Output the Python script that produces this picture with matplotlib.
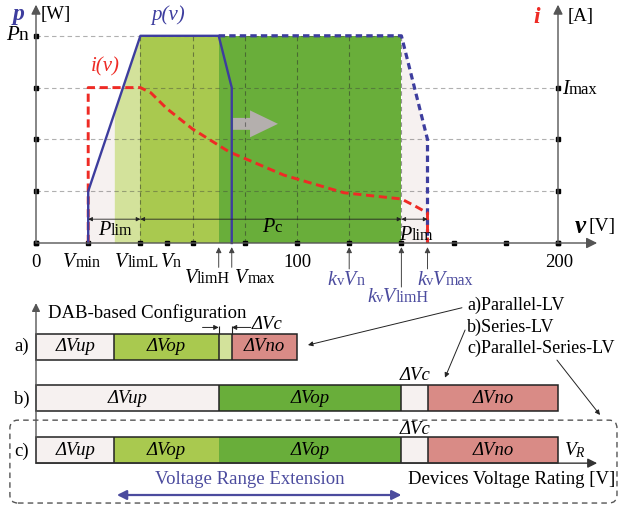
import matplotlib
matplotlib.use('Agg')
import matplotlib.pyplot as plt
import numpy as np
from matplotlib.patches import FancyBboxPatch
from matplotlib.offsetbox import TextArea, HPacker, AnnotationBbox

plt.rcParams['font.family'] = ['Liberation Serif', 'DejaVu Serif']
plt.rcParams['mathtext.fontset'] = 'custom'
plt.rcParams['mathtext.rm'] = 'Liberation Serif'
plt.rcParams['mathtext.it'] = 'Liberation Serif:italic'

# operating curves (voltage [V], level in grid units)
tick_v = [0, 20, 40, 50, 60, 80, 100, 120, 140, 160, 180, 200]
grid_v = [40, 60, 80, 100, 120, 140]
grid_lvl = [1, 2, 3, 4]
p_v = [20, 20, 40, 70, 75, 75]
p_lvl = [0, 1, 4, 4, 3, 0]
p_ext_v = [70, 140, 150, 150]
p_ext_lvl = [4, 4, 2, 0]
i_v = [20, 20, 40, 44, 50, 60, 74, 95, 118, 140, 145, 150, 150]
i_lvl = [0, 3, 3, 2.9, 2.6, 2.2, 1.76, 1.31, 0.97, 0.85, 0.72, 0.58, 0]
env_v = [20, 40, 140, 150]
env_lvl = [1, 4, 4, 2]
band_edges = [20, 30, 40, 70, 140, 150]

# voltage allocation bars
bar_a = [0, 30, 70, 75, 100]
bar_b = [0, 70, 140, 150, 200]
bar_c = [0, 30, 70, 140, 150, 200]
labels_a = ['ΔVup', 'ΔVop', '', 'ΔVno']
labels_b = ['ΔVup', 'ΔVop', '', 'ΔVno']
labels_c = ['ΔVup', 'ΔVop', 'ΔVop', '', 'ΔVno']

BLUE = '#3d3d9e'
RED = '#ee2b25'
KV = '#4b4b9e'
PALE = '#f6f1f0'
LLGREEN = '#d3e29b'
MGREEN = '#a9c94f'
DGREEN = '#69ae3a'
PINK = '#d98b86'

band_colors = [PALE, LLGREEN, MGREEN, DGREEN, PALE]
colors_a = [PALE, MGREEN, LLGREEN, PINK]
colors_b = [PALE, DGREEN, PALE, PINK]
colors_c = [PALE, MGREEN, DGREEN, PALE, PINK]

PX_V = 2.61     # pixels per volt
PX_L = 51.8     # pixels per grid level

fig = plt.figure(figsize=(6.18, 5.07), dpi=100)
ax = fig.add_axes([0, 0, 1, 1])
ax.set_xlim(-36 / PX_V, (618 - 36) / PX_V)
ax.set_ylim((243 - 507) / PX_L, 243 / PX_L)
ax.axis('off')


def rich(x, y, parts, color='black', align=(0.5, 0.5)):
    areas = [TextArea(t, textprops=dict(color=color, fontsize=s, style=st,
                                        family='Liberation Serif'))
             for t, st, s in parts]
    box = HPacker(children=areas, align='baseline', pad=0, sep=0)
    ax.add_artist(AnnotationBbox(box, (x, y), frameon=False,
                                 box_alignment=align, pad=0))


def arrow(x0, y0, x1, y1, style='-|>', color='#333', lw=0.7, ms=8):
    ax.annotate('', xy=(x1, y1), xytext=(x0, y0),
                arrowprops=dict(arrowstyle=style, color=color, lw=lw,
                                mutation_scale=ms, shrinkA=0, shrinkB=0))


# shaded operating regions under the power envelope
for a, b, c in zip(band_edges[:-1], band_edges[1:], band_colors):
    xs = sorted(set([a, b] + [v for v in env_v if a < v < b]))
    ax.fill_between(xs, 0, np.interp(xs, env_v, env_lvl), color=c, lw=0)

# dashed grid
dash = (0, (4, 3))
ax.hlines(grid_lvl[:3], 0, 200, colors='#3a3a3a', alpha=0.4, lw=0.8, linestyles=dash)
ax.hlines(grid_lvl[3], 0, 140, colors='#3a3a3a', alpha=0.4, lw=0.8, linestyles=dash)
ax.vlines(grid_v, 0, 4, colors='#2a2a2a', alpha=0.5, lw=0.8, linestyles=dash)

# axes
arrow(0, 0, 0, 4.6, color='#555', lw=1.0, ms=14)
arrow(200, 0, 200, 4.6, color='#555', lw=1.0, ms=14)
arrow(0, 0, 215, 0, color='#555', lw=1.0, ms=16)
ax.plot(tick_v, np.zeros(len(tick_v)), 's', color='black', ms=3.5)
ax.plot(np.zeros(5), [0] + grid_lvl, 's', color='black', ms=3.5)
ax.plot(np.full(4, 200), [0] + grid_lvl[:3], 's', color='black', ms=3.5)

# shift arrow
ax.arrow(75.5, 2.3, 17.2, 0, width=0.23, head_width=0.52, head_length=10.7,
         length_includes_head=True, color='#b4afad', lw=0)

# curves
ax.plot(p_ext_v, p_ext_lvl, color=BLUE, lw=2.3, dashes=(2.0, 1.3))
ax.plot(i_v, i_lvl, color=RED, lw=2.1, dashes=(2.8, 1.6))
ax.plot(p_v, p_lvl, color=BLUE, lw=1.7)

# power limit spans
arrow(20, 0.46, 40, 0.46, style='<|-|>', color='#222', lw=0.6, ms=6)
arrow(40, 0.46, 140, 0.46, style='<|-|>', color='#222', lw=0.6, ms=6)
arrow(140, 0.46, 150, 0.46, style='<|-|>', color='#222', lw=0.6, ms=6)
rich(30.3, 0.24, [('P', 'italic', 14.5), ('lim', 'normal', 11.5)])
rich(90.4, 0.29, [('P', 'italic', 14.5), ('c', 'normal', 12)])
rich(145.5, 0.15, [('P', 'italic', 14.5), ('lim', 'normal', 11.5)])

# axis labels
ax.text(-6.8, 4.42, 'p', color=BLUE, fontsize=17, style='italic', weight='bold',
        ha='center', va='center')
ax.text(7.5, 4.42, '[W]', fontsize=13.5, ha='center', va='center')
ax.text(192, 4.36, 'i', color=RED, fontsize=17, style='italic', weight='bold',
        ha='center', va='center')
ax.text(208.5, 4.38, '[A]', fontsize=13.5, ha='center', va='center')
rich(-7.3, 4.0, [('P', 'italic', 15), ('n', 'normal', 14)])
rich(201.6, 2.97, [('I', 'italic', 14.5), ('max', 'normal', 12)], align=(0, 0.5))
ax.text(208.5, 0.32, 'v', fontsize=18, style='italic', weight='bold',
        ha='center', va='center')
ax.text(217, 0.32, '[V]', fontsize=14, ha='center', va='center')
ax.text(50.6, 4.4, 'p(v)', color=BLUE, fontsize=15, style='italic',
        ha='center', va='center')
ax.text(26.4, 3.4, 'i(v)', color=RED, fontsize=15, style='italic',
        ha='center', va='center')

# voltage tick labels
ax.text(0, -0.37, '0', fontsize=13.5, ha='center', va='center')
ax.text(100, -0.37, '100', fontsize=13.5, ha='center', va='center')
ax.text(200.5, -0.37, '200', fontsize=13.5, ha='center', va='center')
rich(17.6, -0.37, [('V', 'italic', 14.5), ('min', 'normal', 11.5)])
rich(38.7, -0.37, [('V', 'italic', 14.5), ('limL', 'normal', 11.5)])
rich(51.7, -0.37, [('V', 'italic', 14.5), ('n', 'normal', 11.5)])
rich(65.6, -0.68, [('V', 'italic', 14.5), ('limH', 'normal', 11.5)])
rich(83.9, -0.68, [('V', 'italic', 14.5), ('max', 'normal', 11.5)])
for v, y0 in [(70, -0.47), (75, -0.47), (120, -0.5), (140, -0.85), (150, -0.5)]:
    arrow(v, y0, v, -0.08, color='#444', lw=0.7, ms=8)
rich(118.8, -0.72, [('k', 'italic', 14.5), ('v', 'normal', 10.5),
                    ('V', 'italic', 14.5), ('n', 'normal', 11.5)], color=KV)
rich(156.7, -0.72, [('k', 'italic', 14.5), ('v', 'normal', 10.5),
                    ('V', 'italic', 14.5), ('max', 'normal', 11.5)], color=KV)
rich(138.7, -1.05, [('k', 'italic', 14.5), ('v', 'normal', 10.5),
                    ('V', 'italic', 14.5), ('limH', 'normal', 11.5)], color=KV)

# voltage allocation bars
for row, edges, cols, labs in [(-2, bar_a, colors_a, labels_a),
                               (-3, bar_b, colors_b, labels_b),
                               (-4, bar_c, colors_c, labels_c)]:
    widths = np.diff(edges)
    ax.barh(row, widths, left=edges[:-1], height=0.5, color=cols, lw=0)
    ax.barh(row, edges[-1], left=0, height=0.5, fill=False, ec='#222', lw=1.1)
    for e, c1, c2 in zip(edges[1:-1], cols[:-1], cols[1:]):
        if not (c1 == MGREEN and c2 == DGREEN):
            ax.vlines(e, row - 0.25, row + 0.25, colors='#222', lw=1.1)
    for l, w, lab in zip(edges[:-1], widths, labs):
        ax.text(l + w / 2, row, lab, fontsize=13.5, style='italic',
                ha='center', va='center')

ax.text(-5.4, -2.0, 'a)', fontsize=13.5, ha='center', va='center')
ax.text(-5.4, -3.02, 'b)', fontsize=13.5, ha='center', va='center')
ax.text(-5.4, -4.02, 'c)', fontsize=13.5, ha='center', va='center')
arrow(0, -3.76, 0, -1.16, color='#555', lw=1.0, ms=12)
arrow(0, -4.25, 215, -4.25, color='#333', lw=1.0, ms=14)
ax.text(4.6, -1.35, 'DAB-based Configuration', fontsize=13.5, ha='left', va='center')

# converter gap markers
ax.vlines([70, 75], -1.75, -1.6, colors='#222', lw=0.8)
arrow(63.8, -1.63, 70, -1.63, color='#222', lw=0.7, ms=7)
arrow(82.3, -1.63, 75, -1.63, color='#222', lw=0.7, ms=7)
ax.text(82.8, -1.58, 'ΔVc', fontsize=13.5, style='italic', ha='left', va='center')
ax.text(145.2, -2.56, 'ΔVc', fontsize=13.5, style='italic', ha='center', va='center')
ax.text(145.2, -3.6, 'ΔVc', fontsize=13.5, style='italic', ha='center', va='center')

# configuration legend
ax.text(165.1, -1.2, 'a)Parallel-LV', fontsize=13, ha='left', va='center')
ax.text(165.1, -1.62, 'b)Series-LV', fontsize=13, ha='left', va='center')
ax.text(165.1, -2.03, 'c)Parallel-Series-LV', fontsize=13, ha='left', va='center')
arrow(163.2, -1.25, 104.2, -1.97, color='#222', lw=0.7, ms=7)
arrow(164.4, -1.68, 156.7, -2.6, color='#222', lw=0.7, ms=7)
arrow(199.6, -2.26, 216.1, -3.32, color='#222', lw=0.7, ms=7)

ax.add_patch(FancyBboxPatch((-10, -5.02), 232.6, 1.6,
                            boxstyle='round,pad=0,rounding_size=3.1',
                            mutation_aspect=PX_V / PX_L, fill=False,
                            ec='#555', lw=1.0, ls=(0, (4, 3))))

ax.text(82, -4.575, 'Voltage Range Extension', color=KV, fontsize=13.5,
        ha='center', va='center')
arrow(31, -4.865, 140, -4.865, style='<|-|>', color=KV, lw=1.6, ms=14)
ax.text(182.4, -4.575, 'Devices Voltage Rating [V]', fontsize=13.5,
        ha='center', va='center')
ax.text(206.5, -4.0, '$V_R$', fontsize=14, ha='center', va='center')

fig.savefig('out.png', dpi=100)
